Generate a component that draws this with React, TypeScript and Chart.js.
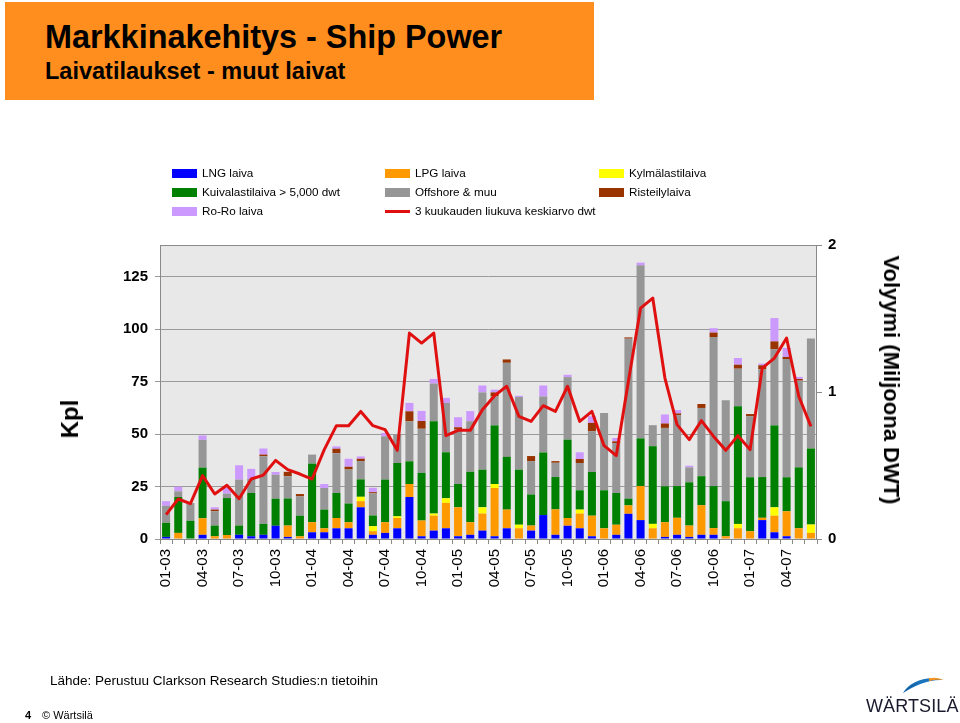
import React, { useEffect, useRef } from "react";
import { Chart, registerables } from "chart.js";

Chart.register(...registerables);

const FONT = "'Liberation Sans', Arial, Helvetica, sans-serif";

const months = [
  "01-03", "02-03", "03-03", "04-03", "05-03", "06-03", "07-03", "08-03", "09-03", "10-03", "11-03", "12-03",
  "01-04", "02-04", "03-04", "04-04", "05-04", "06-04", "07-04", "08-04", "09-04", "10-04", "11-04", "12-04",
  "01-05", "02-05", "03-05", "04-05", "05-05", "06-05", "07-05", "08-05", "09-05", "10-05", "11-05", "12-05",
  "01-06", "02-06", "03-06", "04-06", "05-06", "06-06", "07-06", "08-06", "09-06", "10-06", "11-06", "12-06",
  "01-07", "02-07", "03-07", "04-07", "05-07", "06-07",
];

const lng = [
  1, 0, 0, 2, 0, 0, 2, 1.3, 2, 6.3, 1, 0,
  3.2, 3.2, 5.1, 5.1, 15.1, 2, 2.9, 5.1, 20, 1.3, 4, 5.1,
  1.3, 2, 4, 1.3, 5.1, 0, 4, 11.4, 2, 6.3, 5.1, 1.3,
  0, 2, 12, 9, 0, 1, 2, 1, 2, 2, 0, 0,
  0, 9, 3.2, 1.3, 0, 0,
];

const lpg = [
  0, 2.9, 0, 7.9, 1.3, 1.9, 0, 0, 0, 0, 5.4, 1.3,
  4.8, 1.9, 4.9, 2.9, 2.9, 1.7, 5.1, 4.9, 6.2, 7.5, 7.1, 12.1,
  13.8, 6, 8.1, 23, 8.9, 5.1, 2.4, 0, 12.1, 3.7, 7, 9.8,
  5.1, 4.8, 4, 16.2, 5.1, 7, 8.1, 5.4, 14.1, 3.2, 1.3, 5.1,
  3.7, 1.1, 7.9, 11.9, 5.1, 2.9,
];

const kylma = [
  0, 0, 0, 0, 0, 0, 0, 0, 0, 0, 0, 0,
  0, 0, 0, 0, 2.1, 2.4, 0, 0.8, 0, 0, 1, 2.2,
  0, 0, 3, 1.9, 0, 1.7, 0, 0, 0, 0, 1.9, 0,
  0, 0, 0, 0, 2.1, 0, 0, 0, 0, 0, 0, 2.1,
  0, 0, 4, 0, 0, 4,
];

const kuiva = [
  6.7, 17.1, 8.7, 24.1, 5.1, 17.6, 4.4, 20.6, 5.2, 12.9, 12.9, 9.8,
  27.9, 8.9, 11.9, 8.9, 8.3, 5.1, 20.3, 25.4, 10.8, 22.7, 44, 21.9,
  11.1, 24, 17.9, 27.9, 25.1, 26.2, 14.8, 29.8, 15.4, 37.3, 9.2, 20.8,
  18.1, 15.1, 3.2, 22.7, 37, 17.1, 15.1, 20.6, 13.8, 20, 16.7, 56,
  25.7, 19.4, 39, 16.2, 29, 36.2,
];

const offshore = [
  8.1, 2.7, 8.4, 13.2, 6.8, 2.1, 21.9, 6.7, 32.2, 11.4, 10.6, 9.2,
  4.3, 10.3, 19, 16.2, 8.7, 10.5, 20.6, 13.5, 19, 21, 17.9, 23.5,
  25.9, 24.1, 36.8, 13.8, 44.8, 34.6, 15.9, 26.7, 6.8, 29.8, 13, 19.4,
  36.8, 23.8, 76.2, 82.4, 10, 27.8, 33.8, 7.1, 32.5, 71, 48.1, 17.9,
  29, 51.3, 36.3, 56.3, 41.3, 52.4,
];

const risteily = [
  0, 0, 0, 0, 0.8, 0, 0, 0, 0.8, 0, 2.1, 1.1,
  0, 0, 2.1, 1.3, 1.1, 0.6, 0, 0, 4.8, 3.7, 0, 0,
  1.1, 0, 0, 1.9, 1.6, 0, 2.4, 0, 0.8, 0, 1.9, 4,
  0, 0.8, 0.6, 0, 0, 2.1, 0.8, 0, 1.9, 2.1, 0, 1.9,
  1.1, 1.9, 3.7, 1, 0.8, 0,
];

const roro = [
  2.2, 2.2, 0, 2.1, 1.1, 2.7, 6.8, 4.8, 2.9, 1.3, 0, 0,
  0, 1.9, 1.1, 3.8, 1.1, 2.1, 1.6, 0, 4, 4.8, 2.2, 2.4,
  4.8, 4.8, 3.3, 1.3, 0, 0.6, 0, 5.2, 0, 1.1, 3.2, 3.2,
  0, 1.6, 0, 1.3, 0, 4.3, 1.6, 0.8, 0, 2.1, 0, 3.2,
  0, 0.8, 11.1, 4.3, 1, 0,
];

const dwtAvg = [
  0.166, 0.272, 0.24, 0.431, 0.306, 0.365, 0.274, 0.408, 0.435, 0.535, 0.472, 0.442,
  0.408, 0.608, 0.771, 0.771, 0.868, 0.771, 0.744, 0.603, 1.401, 1.333, 1.401, 0.703,
  0.739, 0.739, 0.88, 0.975, 1.039, 0.834, 0.8, 0.907, 0.868, 1.039, 0.8, 0.868,
  0.635, 0.567, 1.073, 1.571, 1.639, 1.095, 0.778, 0.676, 0.805, 0.698, 0.603, 0.703,
  0.608, 1.163, 1.231, 1.367, 0.971, 0.766,
];

const seriesNames = [
  "LNG laiva",
  "LPG laiva",
  "Kylmälastilaiva",
  "Kuivalastilaiva > 5,000 dwt",
  "Offshore & muu",
  "Risteilylaiva",
  "Ro-Ro laiva",
  "3 kuukauden liukuva keskiarvo dwt",
];

const COLORS = {
  lng: "#0000FF",
  lpg: "#FF9900",
  kylma: "#FFFF00",
  kuiva: "#008000",
  offshore: "#969696",
  risteily: "#993300",
  roro: "#CC99FF",
  line: "#E01010",
};

const leftTicksLabel = "Kpl";
const rightTicksLabel = "Volyymi (Miljoona DWT)";

export default function App() {
  const ref = useRef<HTMLCanvasElement | null>(null);

  useEffect(() => {
    if (!ref.current) return;
    const plotBg = {
      id: "plotBg",
      beforeDraw(chart: any) {
        const { ctx, chartArea: a } = chart;
        ctx.save();
        ctx.fillStyle = "#E8E8E8";
        ctx.fillRect(a.left, a.top, a.right - a.left, a.bottom - a.top);
        ctx.restore();
      },
      beforeDatasetsDraw(chart: any) {
        const { ctx, chartArea: a } = chart;
        ctx.save();
        ctx.strokeStyle = "#8A8A8A";
        ctx.lineWidth = 1;
        ctx.strokeRect(a.left + 0.5, a.top + 0.5, a.right - a.left - 1, a.bottom - a.top);
        ctx.restore();
      },
    };

    const bar = (label: string, data: number[], color: string) => ({
      type: "bar" as const,
      label,
      data,
      backgroundColor: color,
      borderWidth: 0,
      stack: "ships",
      yAxisID: "y",
      order: 1,
      categoryPercentage: 1,
      barPercentage: 0.66,
    });

    const chart = new Chart(ref.current, {
      type: "bar",
      data: {
        labels: months,
        datasets: [
          bar(seriesNames[0], lng, COLORS.lng),
          bar(seriesNames[1], lpg, COLORS.lpg),
          bar(seriesNames[2], kylma, COLORS.kylma),
          bar(seriesNames[3], kuiva, COLORS.kuiva),
          bar(seriesNames[4], offshore, COLORS.offshore),
          bar(seriesNames[5], risteily, COLORS.risteily),
          bar(seriesNames[6], roro, COLORS.roro),
          {
            type: "line" as const,
            label: seriesNames[7],
            data: dwtAvg,
            borderColor: COLORS.line,
            borderWidth: 3,
            pointRadius: 0,
            tension: 0,
            fill: false,
            yAxisID: "y1",
            order: 0,
            borderJoinStyle: "round" as const,
          } as any,
        ],
      },
      options: {
        responsive: false,
        maintainAspectRatio: false,
        animation: false,
        devicePixelRatio: 1,
        layout: { padding: { top: 245, left: 0, right: 0, bottom: 0 } },
        plugins: {
          legend: { display: false },
          tooltip: { enabled: false },
          title: { display: false },
        },
        scales: {
          x: {
            type: "category",
            stacked: true,
            offset: true,
            afterFit: (s: any) => {
              s.height = 723 - 539;
            },
            grid: {
              offset: true,
              drawOnChartArea: false,
              drawTicks: true,
              tickLength: 5,
              color: "#8A8A8A",
            },
            border: { display: false },
            ticks: {
              autoSkip: false,
              minRotation: 90,
              maxRotation: 90,
              padding: 5,
              color: "#000",
              font: { family: FONT, size: 15 },
              callback: (_v: any, i: number) => (i % 3 === 0 ? months[i] : ""),
            },
          },
          y: {
            type: "linear",
            position: "left",
            stacked: true,
            min: 0,
            max: 140,
            afterFit: (s: any) => {
              s.width = 160;
            },
            grid: {
              color: "#9A9A9A",
              lineWidth: 1,
              drawTicks: true,
              tickLength: 5,
            },
            border: { display: false },
            ticks: {
              stepSize: 25,
              includeBounds: false,
              padding: 7,
              color: "#000",
              font: { family: FONT, size: 15, weight: "bold" },
            },
          },
          y1: {
            type: "linear",
            position: "right",
            min: 0,
            max: 2,
            afterFit: (s: any) => {
              s.width = 960 - 817;
            },
            grid: {
              drawOnChartArea: false,
              drawTicks: true,
              tickLength: 5,
              color: "#8A8A8A",
            },
            border: { display: false },
            ticks: {
              stepSize: 1,
              padding: 6,
              color: "#000",
              font: { family: FONT, size: 15, weight: "bold" },
            },
          },
        },
      } as any,
      plugins: [plotBg],
    });
    return () => chart.destroy();
  }, []);

  const legendItems = [
    { name: seriesNames[0], color: COLORS.lng, x: 172, y: 173 },
    { name: seriesNames[3], color: COLORS.kuiva, x: 172, y: 192 },
    { name: seriesNames[6], color: COLORS.roro, x: 172, y: 211 },
    { name: seriesNames[1], color: COLORS.lpg, x: 385, y: 173 },
    { name: seriesNames[4], color: COLORS.offshore, x: 385, y: 192 },
    { name: seriesNames[7], color: COLORS.line, x: 385, y: 211, line: true },
    { name: seriesNames[2], color: COLORS.kylma, x: 599, y: 173 },
    { name: seriesNames[5], color: COLORS.risteily, x: 599, y: 192 },
  ];

  const abs = (style: React.CSSProperties): React.CSSProperties => ({
    position: "absolute",
    whiteSpace: "nowrap",
    fontFamily: FONT,
    color: "#000",
    ...style,
  });

  return (
    <div
      style={{
        position: "fixed",
        left: 0,
        top: 0,
        width: 960,
        height: 723,
        background: "#fff",
        overflow: "hidden",
        fontFamily: FONT,
      }}
    >
      <canvas
        ref={ref}
        width={960}
        height={723}
        style={{ position: "absolute", left: 0, top: 0, width: 960, height: 723, display: "block" }}
      />
      <div style={{ position: "absolute", left: 5, top: 2, width: 589, height: 98, background: "#FF8E1E" }} />
      <div style={abs({ left: 45, top: 21, fontSize: 32.4, lineHeight: "32px", fontWeight: "bold" })}>
        Markkinakehitys - Ship Power
      </div>
      <div style={abs({ left: 45, top: 59, fontSize: 23.5, lineHeight: "24px", fontWeight: "bold" })}>
        Laivatilaukset - muut laivat
      </div>

      {legendItems.map((it) => (
        <React.Fragment key={it.name}>
          {it.line ? (
            <div
              style={{
                position: "absolute",
                left: it.x,
                top: it.y - 1.5,
                width: 25,
                height: 3,
                background: it.color,
              }}
            />
          ) : (
            <div
              style={{
                position: "absolute",
                left: it.x,
                top: it.y - 4.5,
                width: 25,
                height: 9,
                background: it.color,
              }}
            />
          )}
          <div style={abs({ left: it.x + 30, top: it.y - 7, fontSize: 11.7, lineHeight: "14px" })}>{it.name}</div>
        </React.Fragment>
      ))}

      <div
        style={abs({
          left: 70,
          top: 419,
          fontSize: 24,
          lineHeight: "24px",
          fontWeight: "bold",
          transform: "translate(-50%, -50%) rotate(-90deg)",
        })}
      >
        {leftTicksLabel}
      </div>
      <div
        style={abs({
          left: 891,
          top: 380,
          fontSize: 22,
          lineHeight: "22px",
          fontWeight: "bold",
          transform: "translate(-50%, -50%) rotate(90deg)",
        })}
      >
        {rightTicksLabel}
      </div>

      <div style={abs({ left: 50, top: 673, fontSize: 13.5, lineHeight: "16px" })}>
        Lähde: Perustuu Clarkson Research Studies:n tietoihin
      </div>
      <div style={abs({ left: 25, top: 709, fontSize: 11, lineHeight: "13px", fontWeight: "bold" })}>4</div>
      <div style={abs({ left: 42, top: 709, fontSize: 11, lineHeight: "13px" })}>© Wärtsilä</div>

      <svg style={{ position: "absolute", left: 900, top: 676 }} width="46" height="20" viewBox="0 0 46 20">
        <path d="M3 17 C 10 5, 28 -1, 43 4 C 30 3, 15 9, 3 17 Z" fill="#1B75BC" />
        <path d="M3 17 C 8 11, 14 8, 20 6 C 14 9, 9 12, 3 17 Z" fill="#0E4E8A" />
        <path d="M29 2.2 C 35 1, 40 2, 43 4 C 39 3.4, 34 3.5, 29 5 Z" fill="#F7941D" />
      </svg>
      <div style={abs({ left: 866, top: 697, fontSize: 18, lineHeight: "18px", color: "#1A1A2E", letterSpacing: "0.1px", fontWeight: 500 })}>
        WÄRTSILÄ
      </div>
    </div>
  );
}
